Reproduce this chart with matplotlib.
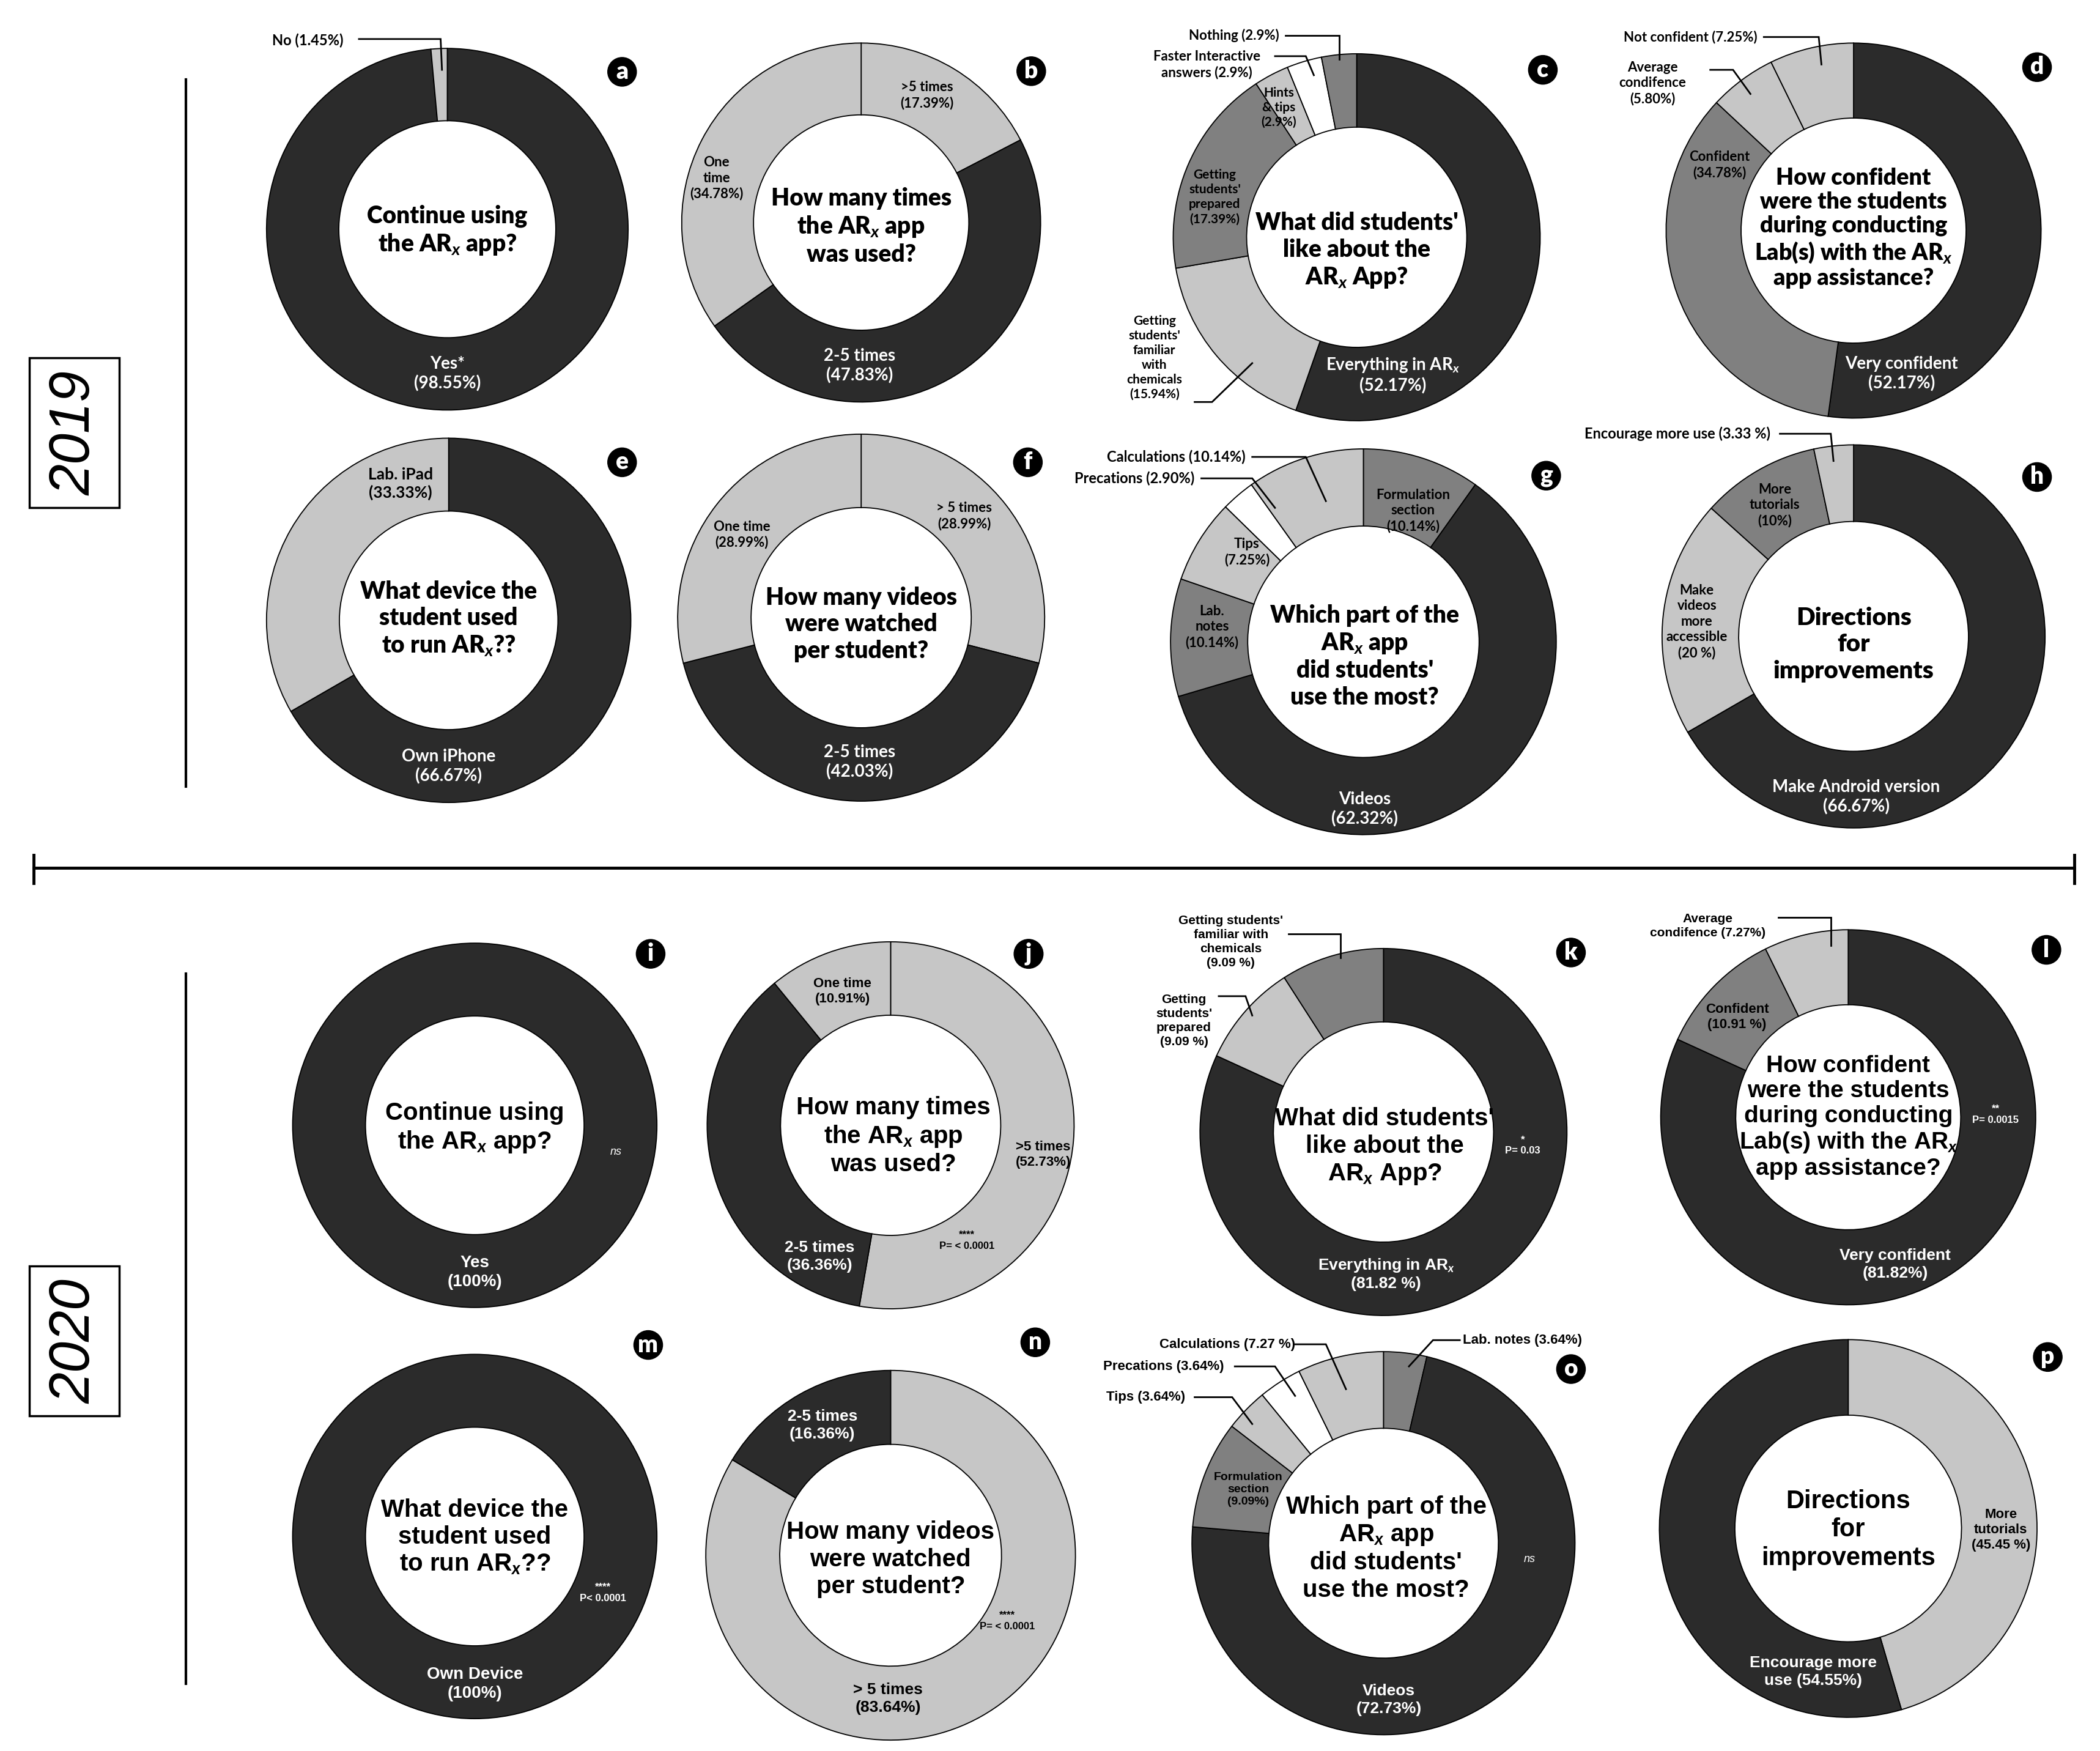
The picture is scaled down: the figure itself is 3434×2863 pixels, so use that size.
import matplotlib.pyplot as plt
from matplotlib.patches import Rectangle

# ---- data (percent of students) ----
a_labels = ['Yes*', 'No']
a_vals = [98.55, 1.45]
b_labels = ['> 5 times', '2-5 times', 'One time']
b_vals = [17.39, 47.83, 34.78]
c_labels = ['Everything in ARx', "Getting students' familiar with chemicals",
            "Getting students' prepared", 'Hints & tips', 'Faster Interactive answers', 'Nothing']
c_vals = [52.17, 15.94, 17.39, 2.9, 2.9, 2.9]
d_labels = ['Very confident', 'Confident', 'Average condifence', 'Not confident']
d_vals = [52.17, 34.78, 5.80, 7.25]
e_labels = ['Own iPhone', 'Lab. iPad']
e_vals = [66.67, 33.33]
f_labels = ['> 5 times', '2-5 times', 'One time']
f_vals = [28.99, 42.03, 28.99]
g_labels = ['Formulation section', 'Videos', 'Lab. notes', 'Tips', 'Precations', 'Calculations']
g_vals = [10.14, 62.32, 10.14, 7.25, 2.90, 10.14]
h_labels = ['Make Android version', 'Make videos more accessible', 'More tutorials', 'Encourage more use']
h_vals = [66.67, 20, 10, 3.33]
i_labels = ['Yes']
i_vals = [100]
j_labels = ['> 5 times', '2-5 times', 'One time']
j_vals = [52.73, 36.36, 10.91]
k_labels = ['Everything in ARx', "Getting students' prepared", "Getting students' familiar with chemicals"]
k_vals = [81.82, 9.09, 9.09]
l_labels = ['Very confident', 'Confident', 'Average condifence']
l_vals = [81.82, 10.91, 7.27]
m_labels = ['Own Device']
m_vals = [100]
n_labels = ['> 5 times', '2-5 times']
n_vals = [83.64, 16.36]
o_labels = ['Lab. notes', 'Videos', 'Formulation section', 'Tips', 'Precations', 'Calculations']
o_vals = [3.64, 72.73, 9.09, 3.64, 3.64, 7.27]
p_labels = ['More tutorials', 'Encourage more use']
p_vals = [45.45, 54.55]

DARK, MID, LIGHT, WH = '#2b2b2b', '#808080', '#c6c6c6', '#ffffff'
F19 = ['Lato', 'DejaVu Sans']
F20 = ['Liberation Sans', 'DejaVu Sans']

plt.rcParams['mathtext.fontset'] = 'custom'
plt.rcParams['mathtext.it'] = 'Lato:italic:bold'
plt.rcParams['mathtext.rm'] = 'Lato:bold'

W, H = 1568, 1307   # layout units (reference image at reduced size)
fig = plt.figure(figsize=(34.34, 28.63), dpi=100)
ax = fig.add_axes([0, 0, 1, 1])


def donut(vals, colors, cx, cy, r, hole=0.6):
    # y axis is inverted below, so start at -90 and go "counterclockwise" -> clockwise from top on screen
    ax.pie(vals, colors=colors, center=(cx, cy), radius=r, startangle=-90, counterclock=True,
           wedgeprops=dict(width=r * (1 - hole), edgecolor='black', linewidth=1.3))


def txt(x, y, s, size=20, color='black', fam=F19, ls=1.25, **kw):
    ax.text(x, y, s, ha='center', va='center', fontsize=size, color=color,
            fontweight='bold', family=fam, linespacing=ls, **kw)


def question(x, y, s, size=28, fam=F19, ls=1.22):
    ax.text(x, y, s, ha='center', va='center', fontsize=size, color='black',
            fontweight='heavy', family=fam, linespacing=ls)


def lead(xs, ys):
    ax.plot(xs, ys, color='black', lw=2, solid_joinstyle='miter')


def letter(x, y, s):
    ax.text(x, y, s, ha='center', va='center', fontsize=28, color='white', fontweight='heavy',
            family=F19, bbox=dict(boxstyle='circle,pad=0.13', fc='black', ec='black'))


ARX = r'AR$_{x}$'

# ================= 2019 =================
# a
donut(a_vals, [DARK, LIGHT], 334, 171, 135)
question(334, 172, 'Continue using\nthe ' + ARX + ' app?')
txt(334, 279, a_labels[0] + '\n(98.55%)', color='white')
txt(230, 30, a_labels[1] + ' (1.45%)', size=17)
lead([268, 329, 330], [29, 29, 52])
letter(464.5, 53.5, 'a')

# b
donut(b_vals, [LIGHT, DARK, LIGHT], 643, 166, 134)
question(643, 169, 'How many times\nthe ' + ARX + ' app\nwas used?')
txt(692, 71, '>5 times\n(17.39%)', size=16)
txt(535, 133, 'One\ntime\n(34.78%)', size=16)
txt(642, 273, b_labels[1] + '\n(47.83%)', color='white')
letter(770, 53, 'b')

# c
donut(c_vals, [DARK, LIGHT, MID, LIGHT, WH, MID], 1013, 177, 137)
question(1013, 187, "What did students'\nlike about the\n" + ARX + ' App?')
txt(1040, 280, 'Everything in ' + ARX + '\n(52.17%)', color='white')
txt(907, 147, "Getting\nstudents'\nprepared\n(17.39%)", size=15)
txt(955, 80, 'Hints\n& tips\n(2.9%)', size=15)
txt(862, 267, "Getting\nstudents'\nfamiliar\nwith\nchemicals\n(15.94%)", size=15)
lead([892, 905, 935], [300, 300, 271])
ax.text(955, 26.5, 'Nothing (2.9%)', ha='right', va='center', fontsize=16, fontweight='bold', family=F19)
lead([960, 1000, 1000], [26.5, 26.5, 44])
txt(901, 48, 'Faster Interactive\nanswers (2.9%)', size=16)
lead([952, 975, 981], [41.8, 41.8, 56])
letter(1152, 52, 'c')

# d
donut(d_vals, [DARK, MID, LIGHT, LIGHT], 1384, 172, 140)
question(1384, 170, 'How confident\nwere the students\nduring conducting\nLab(s) with the ' + ARX
         + '\napp assistance?', size=27, ls=1.18)
txt(1420, 279, d_labels[0] + '\n(52.17%)', color='white')
txt(1284, 123, 'Confident\n(34.78%)', size=16)
ax.text(1312, 27.5, 'Not confident (7.25%)', ha='right', va='center', fontsize=16,
        fontweight='bold', family=F19)
lead([1317, 1358, 1360], [27.5, 27.5, 48])
txt(1234, 62, 'Average\ncondifence\n(5.80%)', size=16)
lead([1277, 1294, 1307], [52, 52, 70])
letter(1521, 50, 'd')

# e
donut(e_vals, [DARK, LIGHT], 335, 463, 136)
question(335, 462, 'What device the\nstudent used\nto run ' + ARX + '??')
txt(299, 361, e_labels[1] + '\n(33.33%)', size=19)
txt(335, 572, e_labels[0] + '\n(66.67%)', color='white')
letter(464.5, 345, 'e')

# f
donut(f_vals, [LIGHT, DARK, LIGHT], 643, 461, 137)
question(643, 466, 'How many videos\nwere watched\nper student?')
txt(554, 399, 'One time\n(28.99%)', size=16)
txt(720, 385, '> 5 times\n(28.99%)', size=16)
txt(642, 569, f_labels[1] + '\n(42.03%)', color='white')
letter(767.5, 345, 'f')

# g
donut(g_vals, [MID, DARK, MID, LIGHT, WH, LIGHT], 1018, 479, 144)
question(1019, 490, 'Which part of the\n' + ARX + ' app\ndid students\'\nuse the most?')
txt(1055, 381, 'Formulation\nsection\n(10.14%)', size=16)
txt(931, 412, 'Tips\n(7.25%)', size=16)
txt(905, 468, 'Lab.\nnotes\n(10.14%)', size=16)
txt(1019, 604, g_labels[1] + '\n(62.32%)', color='white')
ax.text(930, 341, 'Calculations (10.14%)', ha='right', va='center', fontsize=17,
        fontweight='bold', family=F19)
lead([935, 975, 990], [341, 341, 374])
ax.text(892, 357, 'Precations (2.90%)', ha='right', va='center', fontsize=17,
        fontweight='bold', family=F19)
lead([897, 935, 952], [357, 357, 379])
letter(1154.5, 355, 'g')

# h
donut(h_vals, [DARK, LIGHT, MID, LIGHT], 1384, 475, 143)
question(1384, 481, 'Directions\nfor\nimprovements', size=29)
txt(1386, 595, h_labels[0] + '\n(66.67%)', color='white')
txt(1267, 464, 'Make\nvideos\nmore\naccessible\n(20 %)', size=16)
txt(1325, 377, 'More\ntutorials\n(10%)', size=16)
ax.text(1322, 323.7, 'Encourage more use (3.33 %)', ha='right', va='center', fontsize=17,
        fontweight='bold', family=F19)
lead([1329, 1367, 1369], [323.7, 323.7, 344])
letter(1521, 356, 'h')

# ================= 2020 =================
# i
donut(i_vals, [DARK], 354.5, 840, 136)
question(354.5, 842, 'Continue using\nthe ' + ARX + ' app?', size=29, fam=F20)
txt(354.5, 950, i_labels[0] + '\n(100%)', size=20, color='white', fam=F20)
ax.text(460, 860, 'ns', ha='center', va='center', fontsize=13, color='white', style='italic', family=F20)
letter(485.8, 712, 'i')

# j
donut(j_vals, [LIGHT, DARK, LIGHT], 665, 840, 137)
question(667, 848, 'How many times\nthe ' + ARX + ' app\nwas used?', size=29, fam=F20)
txt(629, 740, 'One time\n(10.91%)', size=16, fam=F20)
txt(779, 862, '>5 times\n(52.73%)', size=16, fam=F20)
txt(612, 938, j_labels[1] + '\n(36.36%)', size=19, color='white', fam=F20)
txt(722, 926, '****\nP= < 0.0001', size=12, fam=F20)
letter(768, 712, 'j')

# k
donut(k_vals, [DARK, LIGHT, MID], 1033, 845, 137)
question(1034, 856, "What did students'\nlike about the\n" + ARX + ' App?', size=29, fam=F20)
txt(1035, 951, 'Everything in ' + ARX + '\n(81.82 %)', size=19, color='white', fam=F20)
txt(1137, 855, '*\nP= 0.03', size=12, color='white', fam=F20)
txt(919, 703, "Getting students'\nfamiliar with\nchemicals\n(9.09 %)", size=15, fam=F20)
lead([962, 1001, 1001], [697, 697, 715])
txt(884, 762, "Getting\nstudents'\nprepared\n(9.09 %)", size=15, fam=F20)
lead([910, 930, 935], [743.6, 743.6, 758])
letter(1173, 711, 'k')

# l
donut(l_vals, [DARK, MID, LIGHT], 1380, 834, 140)
question(1380, 834, 'How confident\nwere the students\nduring conducting\nLab(s) with the ' + ARX
         + '\napp assistance?', size=28, fam=F20, ls=1.18)
txt(1297, 759, 'Confident\n(10.91 %)', size=16, fam=F20)
txt(1415, 944, l_labels[0] + '\n(81.82%)', size=19, color='white', fam=F20)
txt(1490, 832, '**\nP= 0.0015', size=12, color='white', fam=F20)
txt(1275, 691, 'Average\ncondifence (7.27%)', size=15, fam=F20)
lead([1328, 1367, 1367], [685, 685, 706])
letter(1528, 709, 'l')

# m
donut(m_vals, [DARK], 354.5, 1147, 136)
question(354.5, 1147.5, 'What device the\nstudent used\nto run ' + ARX + '??', size=29, fam=F20)
txt(354.5, 1257, m_labels[0] + '\n(100%)', size=20, color='white', fam=F20)
txt(450, 1189, '****\nP< 0.0001', size=12, color='white', fam=F20)
letter(484, 1004, 'm')

# n
donut(n_vals, [LIGHT, DARK], 665, 1161, 138)
question(665, 1164, 'How many videos\nwere watched\nper student?', size=29, fam=F20)
txt(614, 1064, n_labels[1] + '\n(16.36%)', size=19, color='white', fam=F20)
txt(663, 1268, n_labels[0] + '\n(83.64%)', size=19, fam=F20)
txt(752, 1210, '****\nP= < 0.0001', size=12, fam=F20)
letter(773, 1002, 'n')

# o
donut(o_vals, [MID, DARK, MID, LIGHT, WH, LIGHT], 1033, 1152, 143)
question(1035, 1156, 'Which part of the\n' + ARX + ' app\ndid students\'\nuse the most?', size=29, fam=F20)
txt(932, 1112, 'Formulation\nsection\n(9.09%)', size=14, fam=F20)
txt(1037, 1269, o_labels[1] + '\n(72.73%)', size=19, color='white', fam=F20)
ax.text(1142, 1164, 'ns', ha='center', va='center', fontsize=13, color='white', style='italic', family=F20)
for s, x, y, xs, ys in [
        ('Calculations (7.27 %)', 967, 1003.5, [967, 990, 1005], [1003.5, 1003.5, 1037]),
        ('Precations (3.64%)', 914, 1020, [922, 952, 967], [1020, 1020, 1042]),
        ('Tips (3.64%)', 885, 1043, [892, 920, 935], [1043, 1043, 1063])]:
    ax.text(x, y, s, ha='right', va='center', fontsize=16, fontweight='bold', family=F20)
    lead(xs, ys)
ax.text(1092, 1000.4, 'Lab. notes (3.64%)', ha='left', va='center', fontsize=16,
        fontweight='bold', family=F20)
lead([1090, 1070, 1052], [1000.4, 1000.4, 1020])
letter(1173, 1022, 'o')

# p
donut(p_vals, [LIGHT, DARK], 1380, 1141, 141)
question(1380, 1142, 'Directions\nfor\nimprovements', size=30, fam=F20)
txt(1494, 1142, 'More\ntutorials\n(45.45 %)', size=16, fam=F20)
txt(1354, 1248, 'Encourage more\nuse (54.55%)', size=19, color='white', fam=F20)
letter(1529, 1013, 'p')

# ---- year boxes and separators ----
for yr, yc in [('2019', 323), ('2020', 1001)]:
    ax.add_patch(Rectangle((22, yc - 56), 67, 112, fill=False, ec='black', lw=2.5))
    ax.text(56, yc, yr, rotation=90, ha='center', va='center', fontsize=66, style='italic',
            family=['Liberation Sans', 'DejaVu Sans'])
ax.plot([139, 139], [59, 587], color='black', lw=3)
ax.plot([139, 139], [727, 1257], color='black', lw=3)
ax.plot([25, 1549], [648, 648], color='black', lw=3.5)
ax.plot([25, 25], [638, 659], color='black', lw=3.5)
ax.plot([1549, 1549], [638, 659], color='black', lw=3.5)

ax.set_xlim(0, W)
ax.set_ylim(H, 0)
ax.set_aspect('equal')
ax.axis('off')
plt.savefig('out.png', dpi=100)
